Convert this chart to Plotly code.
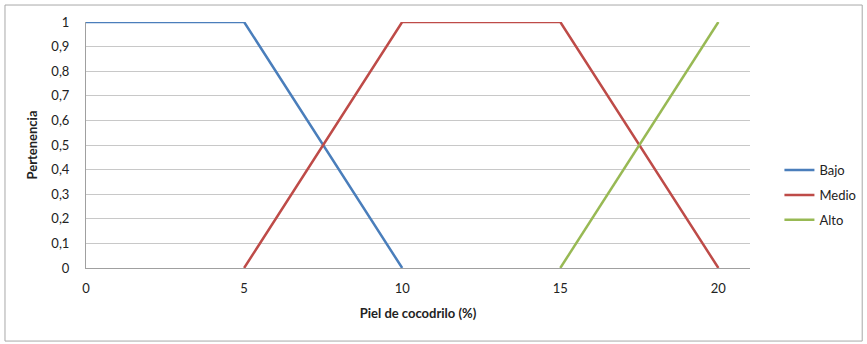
import plotly.graph_objects as go

# Membership functions for "Piel de cocodrilo (%)"
bajo_x = [0, 5, 10]
bajo_y = [1, 1, 0]
medio_x = [5, 10, 15, 20]
medio_y = [0, 1, 1, 0]
alto_x = [15, 20]
alto_y = [0, 1]

x_ticks = [0, 5, 10, 15, 20]
y_ticks = [0, 0.1, 0.2, 0.3, 0.4, 0.5, 0.6, 0.7, 0.8, 0.9, 1]
y_tick_text = [("%g" % v).replace(".", ",") for v in y_ticks]

FONT = "Lato, Open Sans, sans-serif"

fig = go.Figure()
for name, xs, ys, color in [
    ("Bajo", bajo_x, bajo_y, "#4A7EBB"),
    ("Medio", medio_x, medio_y, "#BE4B48"),
    ("Alto", alto_x, alto_y, "#98B954"),
]:
    fig.add_trace(go.Scatter(x=xs, y=ys, mode="lines", name=name,
                             legendgroup=name,
                             line=dict(color=color, width=2.5)))

fig.update_layout(
    width=867, height=344,
    margin=dict(l=86, r=117, t=22, b=76, autoexpand=False),
    paper_bgcolor="white", plot_bgcolor="white",
    font=dict(family=FONT, size=13, color="#222222"),
    showlegend=True,
    legend=dict(xref="container", yref="container",
                x=0.899, y=0.433, xanchor="left", yanchor="middle",
                font=dict(size=13), itemwidth=30, tracegroupgap=5,
                bgcolor="rgba(0,0,0,0)"),
    xaxis=dict(range=[0, 21], tickvals=x_ticks, showgrid=False,
               showline=True, linecolor="#A0A0A0", linewidth=1,
               zeroline=False, ticks="", ticklen=0, ticklabelstandoff=8,
               title=dict(text="<b>Piel de cocodrilo (%)</b>", font=dict(size=13), standoff=14)),
    yaxis=dict(range=[0, 1.0], tickvals=y_ticks, ticktext=y_tick_text,
               showgrid=True, gridcolor="#C8C8C8", gridwidth=1,
               showline=True, linecolor="#A0A0A0", linewidth=1,
               zeroline=False, ticks="", ticklen=0, ticklabelstandoff=13,
               title=dict(text="<b>Pertenencia</b>", font=dict(size=13), standoff=10)),
)

# Outer chart frame
fig.add_shape(type="rect", xref="paper", yref="paper",
              x0=-0.122, x1=1.169, y0=-0.297, y1=1.069,
              line=dict(color="#A8A8A8", width=1), layer="below")

fig.write_html("out.html")
